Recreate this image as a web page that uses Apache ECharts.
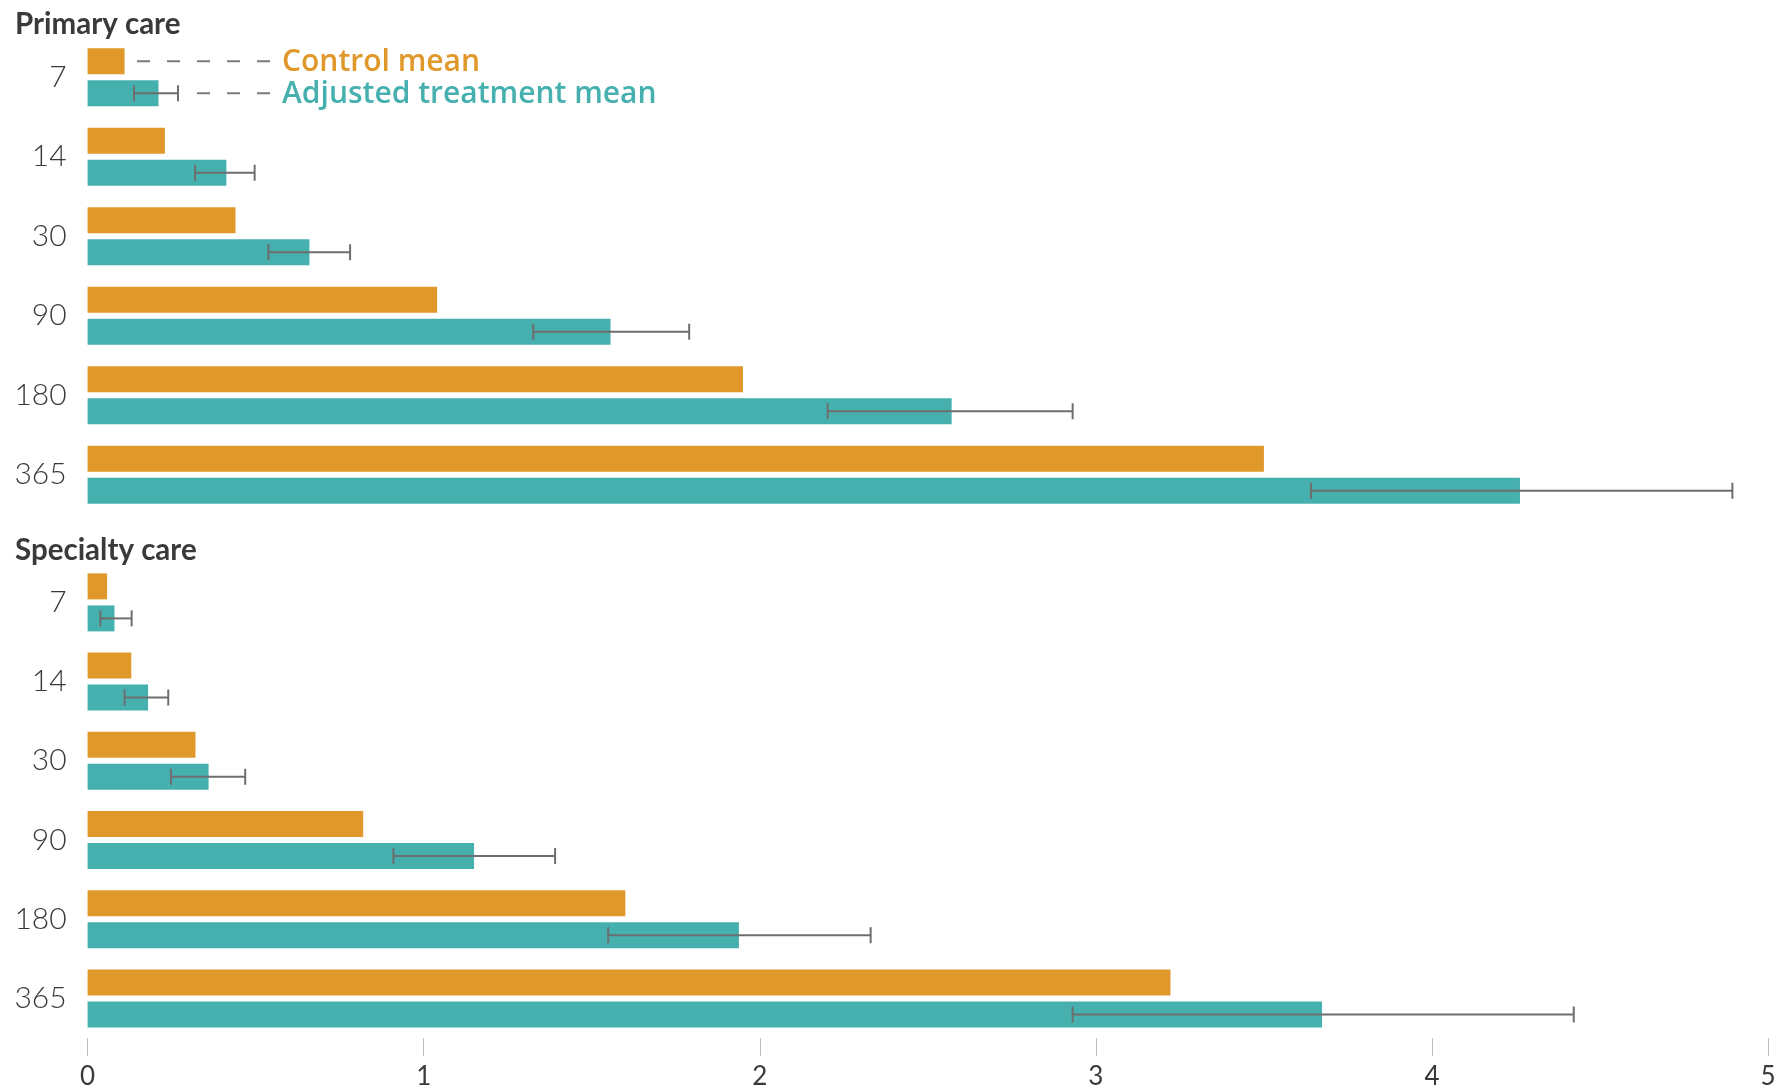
<!DOCTYPE html>
<html>
<head>
<meta charset="utf-8">
<script src="https://cdn.jsdelivr.net/npm/echarts@6/dist/echarts.min.js"></script>
<style>
  html, body { margin: 0; padding: 0; background: #ffffff; }
  #chart { width: 1783px; height: 1090px; }
</style>
</head>
<body>
<div id="chart"></div>
<script>
// Days after enrolment (category axis, top to bottom)
const days = ['7', '14', '30', '90', '180', '365'];

// Primary care visits
const primaryControl   = [0.110, 0.230, 0.440, 1.040, 1.950, 3.500];
const primaryTreatment = [0.211, 0.413, 0.660, 1.556, 2.571, 4.262];
const primaryLow       = [0.138, 0.320, 0.538, 1.326, 2.202, 3.640];
const primaryHigh      = [0.269, 0.497, 0.781, 1.790, 2.931, 4.894];

// Specialty care visits
const specialtyControl   = [0.058, 0.130, 0.321, 0.820, 1.600, 3.222];
const specialtyTreatment = [0.080, 0.180, 0.360, 1.150, 1.938, 3.673];
const specialtyLow       = [0.038, 0.110, 0.248, 0.910, 1.549, 2.931];
const specialtyHigh      = [0.131, 0.240, 0.469, 1.391, 2.330, 4.422];

// Value axis ticks
const xMin = 0, xMax = 5, xStep = 1;

const ORANGE = '#E0982A';
const TEAL = '#46B0AF';
const ERR = '#6E6E6E';
const TEXT = '#3A3A3A';
const BAR_W = 26;
const BAR_GAP = 6;

const chart = echarts.init(document.getElementById('chart'), null, { renderer: 'canvas' });

function barSeries(idx, values, color) {
  return {
    type: 'bar',
    xAxisIndex: idx,
    yAxisIndex: idx,
    data: values,
    barWidth: BAR_W,
    barGap: (BAR_GAP / BAR_W * 100).toFixed(2) + '%',
    itemStyle: { color: color },
    silent: true
  };
}

// Confidence interval whiskers drawn on the centre line of the treatment bar
function errorSeries(idx, low, high) {
  return {
    type: 'custom',
    xAxisIndex: idx,
    yAxisIndex: idx,
    data: days.map((d, i) => [low[i], high[i], i]),
    encode: { x: [0, 1], y: 2 },
    z: 5,
    silent: true,
    renderItem: function (params, api) {
      const cat = api.value(2);
      const y = api.coord([0, cat])[1] + (BAR_GAP + BAR_W) / 2;
      const x0 = api.coord([api.value(0), cat])[0];
      const x1 = api.coord([api.value(1), cat])[0];
      const style = { stroke: ERR, lineWidth: 2 };
      return {
        type: 'group',
        children: [
          { type: 'line', shape: { x1: x0, y1: y, x2: x1, y2: y }, style: style },
          { type: 'line', shape: { x1: x0, y1: y - 8, x2: x0, y2: y + 8 }, style: style },
          { type: 'line', shape: { x1: x1, y1: y - 8, x2: x1, y2: y + 8 }, style: style }
        ]
      };
    }
  };
}

const catAxis = (idx) => ({
  gridIndex: idx,
  type: 'category',
  data: days,
  inverse: true,
  axisLine: { show: false },
  axisTick: { show: false },
  splitLine: { show: false },
  axisLabel: {
    margin: 21,
    fontSize: 30,
    fontFamily: 'Lato',
    fontWeight: 300,
    color: TEXT
  }
});

chart.setOption({
  animation: false,
  backgroundColor: '#ffffff',
  grid: [
    { left: 87.6, right: 15, top: 37.5, height: 477 },
    { left: 87.6, right: 15, top: 562.8, height: 476.6 }
  ],
  xAxis: [
    { gridIndex: 0, type: 'value', min: xMin, max: xMax, interval: xStep, show: false },
    {
      gridIndex: 1, type: 'value', min: xMin, max: xMax, interval: xStep,
      splitLine: { show: false },
      axisLine: { show: false },
      axisTick: { show: true, length: 18, lineStyle: { color: '#BDBDBD', width: 1 } },
      axisLabel: { margin: 26, fontSize: 26, fontFamily: 'Lato', fontWeight: 400, color: TEXT }
    }
  ],
  yAxis: [catAxis(0), catAxis(1)],
  series: [
    barSeries(0, primaryControl, ORANGE),
    barSeries(0, primaryTreatment, TEAL),
    errorSeries(0, primaryLow, primaryHigh),
    barSeries(1, specialtyControl, ORANGE),
    barSeries(1, specialtyTreatment, TEAL),
    errorSeries(1, specialtyLow, specialtyHigh)
  ]
});

// Panel titles and the key, anchored to the first primary-care row
const row7 = chart.convertToPixel({ gridIndex: 0 }, [0, '7']);
const controlY = row7[1] - (BAR_GAP + BAR_W) / 2;
const treatY = row7[1] + (BAR_GAP + BAR_W) / 2;
const keyEnd = 270;
const keyText = 282;
const dash = { stroke: '#7A7A7A', lineWidth: 2, lineDash: [13, 17] };

chart.setOption({
  graphic: [
    {
      type: 'text', left: 15, top: 9,
      style: { text: 'Primary care', font: 'bold 29.5px Lato', fill: TEXT }
    },
    {
      type: 'text', left: 15, top: 535,
      style: { text: 'Specialty care', font: 'bold 29.5px Lato', fill: TEXT }
    },
    { type: 'line', shape: { x1: 137, y1: controlY, x2: keyEnd, y2: controlY }, style: dash },
    { type: 'line', shape: { x1: 197, y1: treatY, x2: keyEnd, y2: treatY }, style: dash },
    {
      type: 'text', x: keyText, y: controlY + 1,
      style: { text: 'Control mean', font: '600 30px "Open Sans"', fill: ORANGE, verticalAlign: 'middle' }
    },
    {
      type: 'text', x: keyText, y: treatY + 1,
      style: { text: 'Adjusted treatment mean', font: '600 30px "Open Sans"', fill: TEAL, verticalAlign: 'middle' }
    }
  ]
});
</script>
</body>
</html>
